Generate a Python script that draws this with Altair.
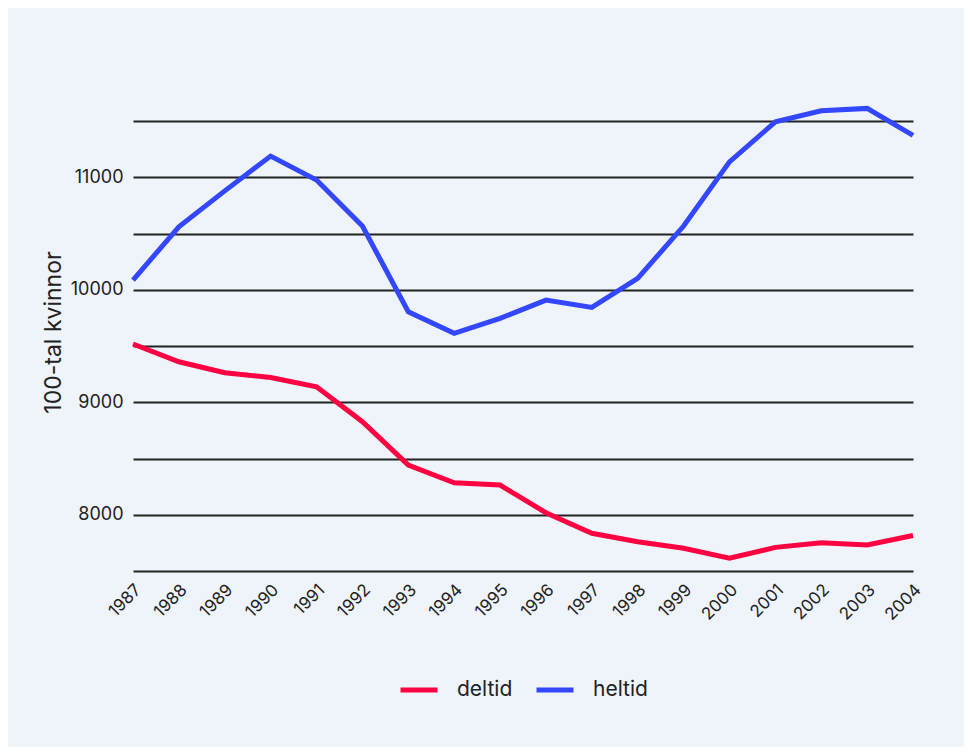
import altair as alt
import pandas as pd

years = list(range(1987, 2005))
deltid = [9518, 9360, 9263, 9221, 9138, 8827, 8442, 8285, 8264, 8018, 7835, 7760, 7702, 7613, 7710, 7752, 7731, 7816]
heltid = [10087, 10560, 10880, 11189, 10976, 10567, 9805, 9613, 9746, 9909, 9844, 10102, 10567, 11138, 11494, 11592, 11613, 11373]
series = ["deltid", "heltid"]
colors = ["#ff0040", "#3347ff"]
grid_values = [7500, 8000, 8500, 9000, 9500, 10000, 10500, 11000, 11500]

df = pd.DataFrame({
    "year": years + years,
    "value": deltid + heltid,
    "serie": [series[0]] * len(years) + [series[1]] * len(years),
})

FONT = "Inter"
TXT = "#222222"

chart = alt.Chart(df).mark_line(strokeWidth=5).encode(
    x=alt.X(
        "year:Q",
        scale=alt.Scale(domain=[1987, 2004], nice=False, zero=False),
        axis=alt.Axis(
            values=years, format="d", labelAngle=-45, labelAlign="right",
            labelBaseline="middle", labelPadding=16, labelOffset=5, ticks=False,
            domain=False, grid=False, labelFontSize=17, labelColor=TXT,
            labelFont=FONT, title=None, labelOverlap=False,
        ),
    ),
    y=alt.Y(
        "value:Q",
        scale=alt.Scale(domain=[7500, 11750], nice=False, zero=False),
        axis=alt.Axis(
            values=grid_values, format="d",
            labelExpr="datum.value % 1000 == 0 ? datum.label : ''",
            grid=True, gridColor="#222222", gridWidth=2, ticks=False, domain=False,
            labelPadding=10, labelFontSize=18, labelColor=TXT, labelFont=FONT,
            title="100-tal kvinnor", titleFontSize=23, titleFontWeight="normal",
            titleColor=TXT, titleFont=FONT, titlePadding=5,
        ),
    ),
    color=alt.Color(
        "serie:N",
        scale=alt.Scale(domain=series, range=colors),
        legend=alt.Legend(
            title=None, orient="none", direction="horizontal",
            legendX=265, legendY=576, padding=0,
            symbolType="stroke", symbolSize=1369, symbolStrokeWidth=5,
            labelFontSize=21, labelFont=FONT, labelColor=TXT,
            labelOffset=17, columnPadding=13,
        ),
    ),
).properties(
    width=780,
    height=478,
    background="#eff4fb",
    padding={"left": 125, "top": 85, "right": 51, "bottom": 176},
    autosize=alt.AutoSizeParams(type="none"),
).configure_view(stroke=None)

chart.save("out.html", embed_options={"renderer": "svg", "actions": False})
